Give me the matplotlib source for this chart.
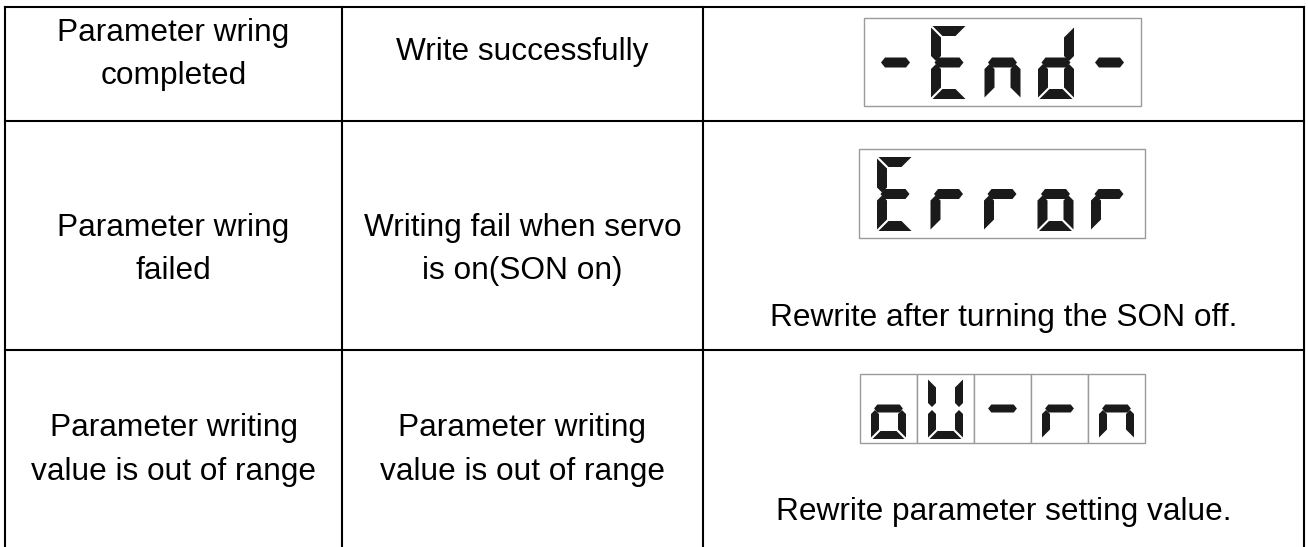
import matplotlib
matplotlib.use("Agg")
import matplotlib.pyplot as plt
from matplotlib.patches import Polygon, Rectangle

plt.rcParams['font.family'] = ['Liberation Sans', 'DejaVu Sans']

# ---- table content ----
col1_lines = [["Parameter wring", "completed"],
              ["Parameter wring", "failed"],
              ["Parameter writing", "value is out of range"]]
col2_lines = [["Write successfully"],
              ["Writing fail when servo", "is on(SON on)"],
              ["Parameter writing", "value is out of range"]]
display_texts = ["-End-", "Error", "oU-rn"]
display_split = [False, False, True]   # oU-rn shown in separate cells
notes = ["", "Rewrite after turning the SON off.", "Rewrite parameter setting value."]

# ---- layout (pixels) ----
W, H = 1308, 547
col_x = [5, 342, 703, 1304]
row_y = [7, 121, 350, 560]
col1_y = [[33, 76], [228, 271], [428, 472]]
col2_y = [[52], [228, 271], [428, 472]]
note_y = [None, 318, 512]
disp_box = [(864, 18, 1141, 106), (859, 149, 1145, 238), (860, 374, 1145, 443)]
FS = 22.8

SEG = {
    '-': 'g', 'E': 'adefg', 'n': 'ceg', 'd': 'bcdeg', 'r': 'eg',
    'o': 'cdeg', 'U': 'bcdef',
}

def seg_polys(x0, y0, w, h, t, gap=1.5):
    ym = y0 + h / 2.0
    x1 = x0 + w
    y1 = y0 + h
    p = {}
    p['a'] = [(x0 + gap, y0), (x1 - gap, y0), (x1 - gap - t, y0 + t), (x0 + gap + t, y0 + t)]
    p['d'] = [(x0 + gap, y1), (x1 - gap, y1), (x1 - gap - t, y1 - t), (x0 + gap + t, y1 - t)]
    gx0 = x0 + t * 0.2 + gap
    gx1 = x1 - t * 0.2 - gap
    b = t * 0.4
    p['g'] = [(gx0, ym), (gx0 + b, ym - t / 2), (gx1 - b, ym - t / 2),
              (gx1, ym), (gx1 - b, ym + t / 2), (gx0 + b, ym + t / 2)]
    p['f'] = [(x0, y0 + gap), (x0 + t, y0 + gap + t), (x0 + t, ym - gap - t / 2),
              (x0 + t / 2, ym - gap), (x0, ym - gap - t / 2)]
    p['e'] = [(x0, y1 - gap), (x0 + t, y1 - gap - t), (x0 + t, ym + gap + t / 2),
              (x0 + t / 2, ym + gap), (x0, ym + gap + t / 2)]
    p['b'] = [(x1, y0 + gap), (x1 - t, y0 + gap + t), (x1 - t, ym - gap - t / 2),
              (x1 - t / 2, ym - gap), (x1, ym - gap - t / 2)]
    p['c'] = [(x1, y1 - gap), (x1 - t, y1 - gap - t), (x1 - t, ym + gap + t / 2),
              (x1 - t / 2, ym + gap), (x1, ym + gap + t / 2)]
    return p

def draw_char(ax, ch, cx, y0, w, h, t):
    polys = seg_polys(cx - w / 2, y0, w, h, t)
    for s in SEG.get(ch, ''):
        ax.add_patch(Polygon(polys[s], closed=True, facecolor='#1a1a1a', edgecolor='none'))

fig = plt.figure(figsize=(W / 100, H / 100), dpi=100)
ax = fig.add_axes([0, 0, 1, 1])
ax.set_xlim(0, W)
ax.set_ylim(H, 0)
ax.axis('off')

lw = 1.5
for y in row_y[:3]:
    ax.plot([col_x[0], col_x[-1]], [y, y], color='black', lw=lw, solid_capstyle='projecting')
for x in col_x:
    ax.plot([x, x], [row_y[0], H + 5], color='black', lw=lw, solid_capstyle='projecting')

for r in range(3):
    cx1 = (col_x[0] + col_x[1]) / 2
    cx2 = (col_x[1] + col_x[2]) / 2
    cx3 = (col_x[2] + col_x[3]) / 2
    for line, y in zip(col1_lines[r], col1_y[r]):
        ax.text(cx1, y, line, ha='center', va='center', fontsize=FS, color='black')
    for line, y in zip(col2_lines[r], col2_y[r]):
        ax.text(cx2, y, line, ha='center', va='center', fontsize=FS, color='black')
    if notes[r]:
        ax.text(cx3, note_y[r], notes[r], ha='center', va='center', fontsize=FS, color='black')

    bx0, by0, bx1, by1 = disp_box[r]
    text = display_texts[r]
    n = len(text)
    if display_split[r]:
        cw = (bx1 - bx0) / n
        for i, ch in enumerate(text):
            ax.add_patch(Rectangle((bx0 + i * cw, by0), cw, by1 - by0, facecolor='white',
                                   edgecolor='#9a9a9a', lw=1.0))
            draw_char(ax, ch, bx0 + (i + 0.5) * cw, by0 + 4, 35, by1 - by0 - 8, 8)
    else:
        ax.add_patch(Rectangle((bx0, by0), bx1 - bx0, by1 - by0, facecolor='white',
                               edgecolor='#9a9a9a', lw=1.0))
        bc = (bx0 + bx1) / 2
        pitch = 53.5
        dh = by1 - by0 - 15
        for i, ch in enumerate(text):
            draw_char(ax, ch, bc + (i - (n - 1) / 2) * pitch, by0 + 8, 36, dh, 10)

fig.savefig('out.png', dpi=100)
